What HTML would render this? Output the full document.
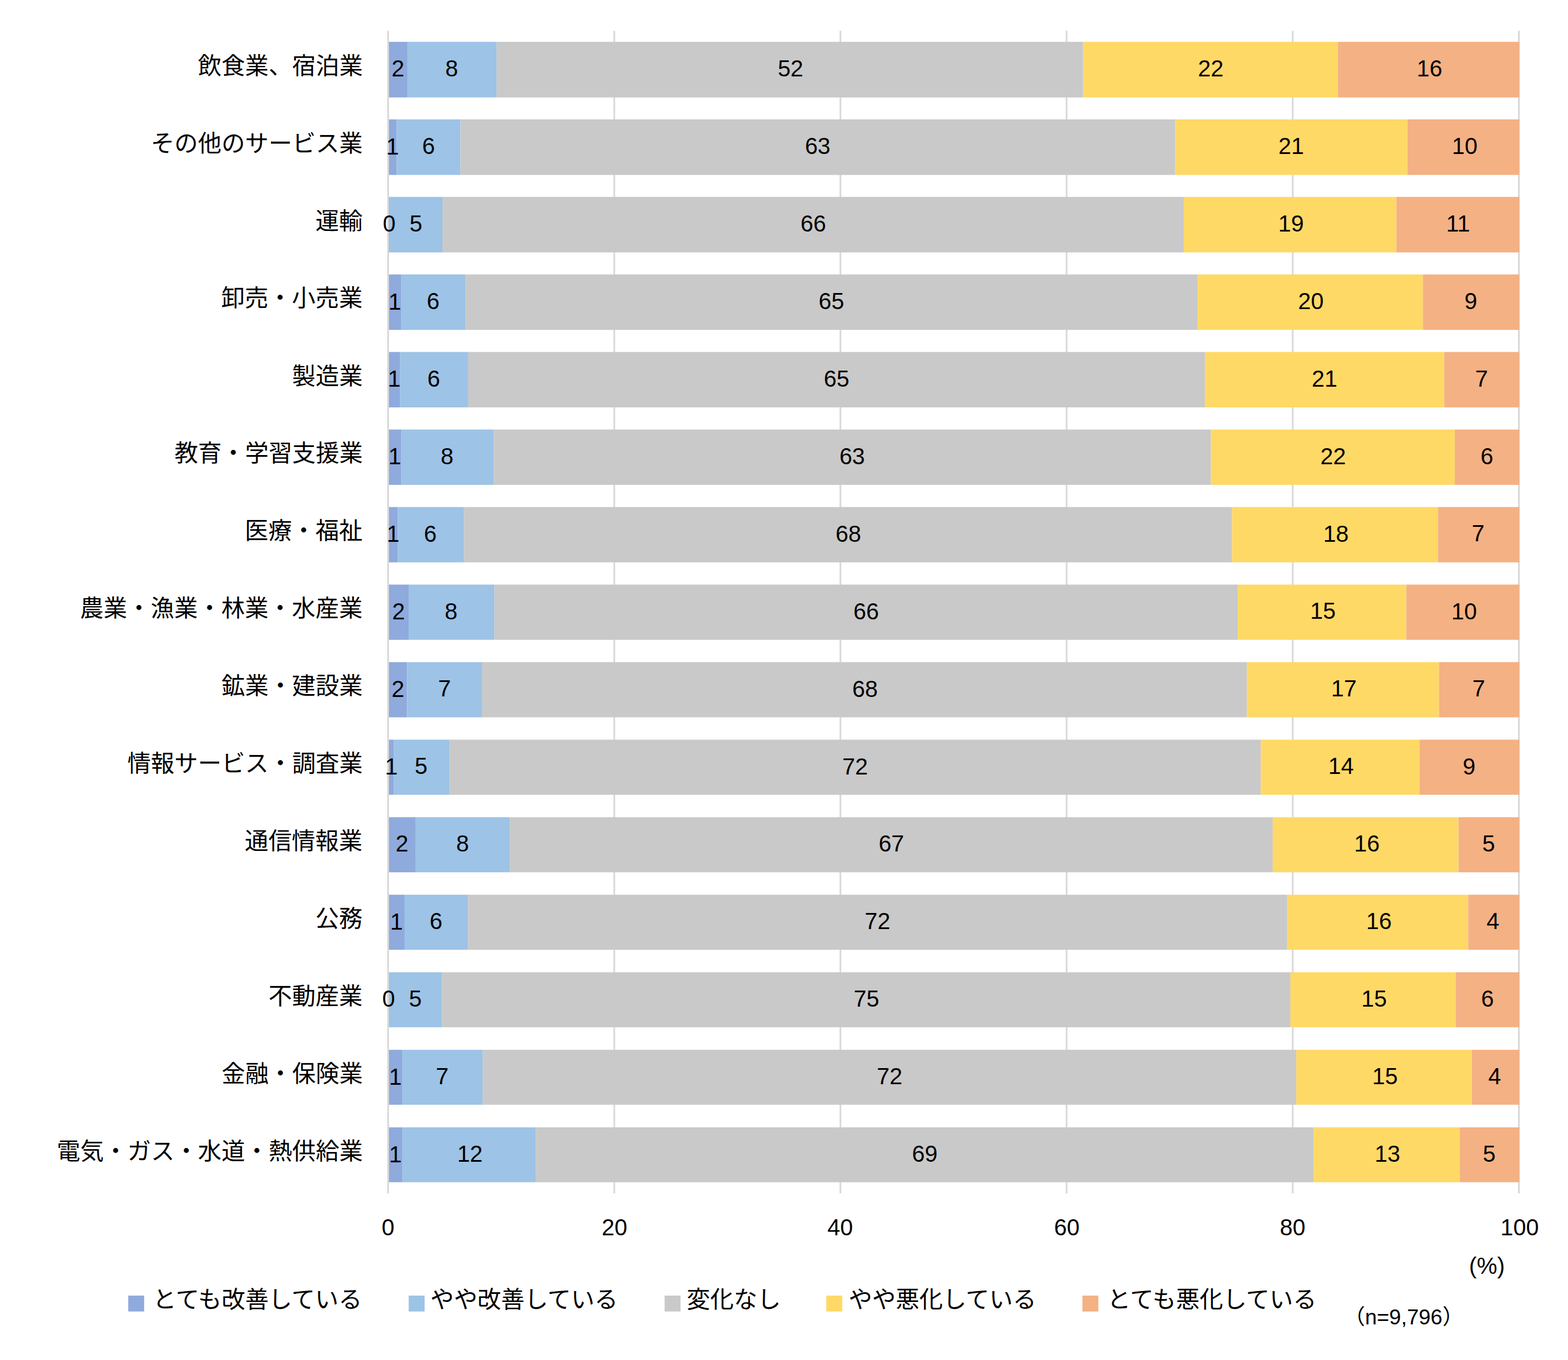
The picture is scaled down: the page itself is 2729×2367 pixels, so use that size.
<!DOCTYPE html>
<html lang="ja"><head><meta charset="utf-8"><title>業種別 景況感の変化</title><style>
html,body{margin:0;padding:0;background:#fff}
body{width:2729px;height:2367px;position:relative;font-family:"Liberation Sans","Noto Sans CJK JP",sans-serif}
#chart{position:absolute;left:0;top:0;width:2729px;height:2367px;background:#fff;overflow:hidden}
#plot{position:absolute;left:0;top:0;display:block}
.g{fill:#D9D9D9}
.s0{fill:#8FAADC}.s1{fill:#9DC3E6}.s2{fill:#C9C9C9}.s3{fill:#FFD966}.s4{fill:#F4B183}
.t{position:absolute;overflow:visible}
.t svg{position:absolute;left:0;top:0;display:block;overflow:visible}
.t text{font-family:"Liberation Sans","Noto Sans CJK JP",sans-serif;fill:#000}
.cat text{font-size:41px;text-anchor:end}
.val text{font-size:40px;text-anchor:middle}
.ax text{font-size:40px;text-anchor:middle}
.unit text{font-size:40px;text-anchor:middle}
.note text{font-size:37px;text-anchor:middle}
.leg text{font-size:41px;text-anchor:start}
</style></head>
<body>
<div id="chart">
<svg id="plot" width="2729" height="2367" viewBox="0 0 2729 2367"><rect class="g" x="1067.60" y="53.50" width="3" height="2023.50"/>
<rect class="g" x="1461.20" y="53.50" width="3" height="2023.50"/>
<rect class="g" x="1854.80" y="53.50" width="3" height="2023.50"/>
<rect class="g" x="2248.40" y="53.50" width="3" height="2023.50"/>
<rect class="g" x="2642.00" y="53.50" width="3" height="2023.50"/>
<g><rect class="s0" x="676.90" y="72.80" width="32.20" height="96.80"/><rect class="s1" x="709.10" y="72.80" width="155.00" height="96.80"/><rect class="s2" x="864.10" y="72.80" width="1021.30" height="96.80"/><rect class="s3" x="1885.40" y="72.80" width="443.00" height="96.80"/><rect class="s4" x="2328.40" y="72.80" width="316.00" height="96.80"/></g>
<g><rect class="s0" x="676.90" y="207.75" width="13.40" height="96.71"/><rect class="s1" x="690.30" y="207.75" width="111.00" height="96.71"/><rect class="s2" x="801.30" y="207.75" width="1243.90" height="96.71"/><rect class="s3" x="2045.20" y="207.75" width="404.30" height="96.71"/><rect class="s4" x="2449.50" y="207.75" width="194.90" height="96.71"/></g>
<g><rect class="s0" x="676.90" y="342.70" width="1.70" height="96.61"/><rect class="s1" x="678.60" y="342.70" width="91.40" height="96.61"/><rect class="s2" x="770.00" y="342.70" width="1290.00" height="96.61"/><rect class="s3" x="2060.00" y="342.70" width="370.30" height="96.61"/><rect class="s4" x="2430.30" y="342.70" width="214.10" height="96.61"/></g>
<g><rect class="s0" x="676.90" y="477.65" width="21.20" height="96.52"/><rect class="s1" x="698.10" y="477.65" width="112.10" height="96.52"/><rect class="s2" x="810.20" y="477.65" width="1274.00" height="96.52"/><rect class="s3" x="2084.20" y="477.65" width="392.20" height="96.52"/><rect class="s4" x="2476.40" y="477.65" width="168.00" height="96.52"/></g>
<g><rect class="s0" x="676.90" y="612.60" width="19.30" height="96.43"/><rect class="s1" x="696.20" y="612.60" width="118.70" height="96.43"/><rect class="s2" x="814.90" y="612.60" width="1282.20" height="96.43"/><rect class="s3" x="2097.10" y="612.60" width="416.40" height="96.43"/><rect class="s4" x="2513.50" y="612.60" width="130.90" height="96.43"/></g>
<g><rect class="s0" x="676.90" y="747.55" width="21.20" height="96.34"/><rect class="s1" x="698.10" y="747.55" width="161.00" height="96.34"/><rect class="s2" x="859.10" y="747.55" width="1248.20" height="96.34"/><rect class="s3" x="2107.30" y="747.55" width="424.60" height="96.34"/><rect class="s4" x="2531.90" y="747.55" width="112.50" height="96.34"/></g>
<g><rect class="s0" x="676.90" y="882.50" width="15.40" height="96.24"/><rect class="s1" x="692.30" y="882.50" width="114.80" height="96.24"/><rect class="s2" x="807.10" y="882.50" width="1337.30" height="96.24"/><rect class="s3" x="2144.40" y="882.50" width="358.20" height="96.24"/><rect class="s4" x="2502.60" y="882.50" width="141.80" height="96.24"/></g>
<g><rect class="s0" x="676.90" y="1017.45" width="34.10" height="96.15"/><rect class="s1" x="711.00" y="1017.45" width="149.20" height="96.15"/><rect class="s2" x="860.20" y="1017.45" width="1293.90" height="96.15"/><rect class="s3" x="2154.10" y="1017.45" width="293.40" height="96.15"/><rect class="s4" x="2447.50" y="1017.45" width="196.90" height="96.15"/></g>
<g><rect class="s0" x="676.90" y="1152.40" width="31.40" height="96.06"/><rect class="s1" x="708.30" y="1152.40" width="130.80" height="96.06"/><rect class="s2" x="839.10" y="1152.40" width="1331.10" height="96.06"/><rect class="s3" x="2170.20" y="1152.40" width="334.30" height="96.06"/><rect class="s4" x="2504.50" y="1152.40" width="139.90" height="96.06"/></g>
<g><rect class="s0" x="676.90" y="1287.35" width="8.30" height="95.96"/><rect class="s1" x="685.20" y="1287.35" width="96.90" height="95.96"/><rect class="s2" x="782.10" y="1287.35" width="1412.30" height="95.96"/><rect class="s3" x="2194.40" y="1287.35" width="276.10" height="95.96"/><rect class="s4" x="2470.50" y="1287.35" width="173.90" height="95.96"/></g>
<g><rect class="s0" x="676.90" y="1422.30" width="46.20" height="95.87"/><rect class="s1" x="723.10" y="1422.30" width="164.10" height="95.87"/><rect class="s2" x="887.20" y="1422.30" width="1327.90" height="95.87"/><rect class="s3" x="2215.10" y="1422.30" width="323.40" height="95.87"/><rect class="s4" x="2538.50" y="1422.30" width="105.90" height="95.87"/></g>
<g><rect class="s0" x="676.90" y="1557.25" width="27.10" height="95.78"/><rect class="s1" x="704.00" y="1557.25" width="110.10" height="95.78"/><rect class="s2" x="814.10" y="1557.25" width="1426.00" height="95.78"/><rect class="s3" x="2240.10" y="1557.25" width="315.20" height="95.78"/><rect class="s4" x="2555.30" y="1557.25" width="89.10" height="95.78"/></g>
<g><rect class="s1" x="676.90" y="1692.20" width="92.30" height="95.68"/><rect class="s2" x="769.20" y="1692.20" width="1476.70" height="95.68"/><rect class="s3" x="2245.90" y="1692.20" width="287.50" height="95.68"/><rect class="s4" x="2533.40" y="1692.20" width="111.00" height="95.68"/></g>
<g><rect class="s0" x="676.90" y="1827.15" width="23.20" height="95.59"/><rect class="s1" x="700.10" y="1827.15" width="139.80" height="95.59"/><rect class="s2" x="839.90" y="1827.15" width="1416.20" height="95.59"/><rect class="s3" x="2256.10" y="1827.15" width="305.50" height="95.59"/><rect class="s4" x="2561.60" y="1827.15" width="82.80" height="95.59"/></g>
<g><rect class="s0" x="676.90" y="1962.10" width="23.20" height="95.50"/><rect class="s1" x="700.10" y="1962.10" width="232.00" height="95.50"/><rect class="s2" x="932.10" y="1962.10" width="1354.10" height="95.50"/><rect class="s3" x="2286.20" y="1962.10" width="254.30" height="95.50"/><rect class="s4" x="2540.50" y="1962.10" width="103.90" height="95.50"/></g>
<rect class="g" x="674.00" y="53.50" width="3" height="2023.50"/>
<rect class="s0" x="223.20" y="2254.9" width="27.7" height="27.7"/>
<rect class="s1" x="711.30" y="2254.9" width="27.7" height="27.7"/>
<rect class="s2" x="1156.70" y="2254.9" width="27.7" height="27.7"/>
<rect class="s3" x="1438.10" y="2254.9" width="27.7" height="27.7"/>
<rect class="s4" x="1883.90" y="2254.9" width="27.7" height="27.7"/></svg>
<div class="row">
<div class="t cat" style="left:338.58px;top:91.89px;width:292.52px;height:42.83px"><svg width="292.52" height="42.83" viewBox="0 0 292.52 42.83"><text x="292.52" y="36.62">飲食業、宿泊業</text></svg></div>
<div class="t val" style="left:678.95px;top:100.43px;width:27.10px;height:36.64px"><svg width="27.10" height="36.64" viewBox="0 0 27.10 36.64"><text x="13.55" y="32.87">2</text></svg></div>
<div class="t val" style="left:772.05px;top:100.43px;width:28.10px;height:37.20px"><svg width="28.10" height="37.20" viewBox="0 0 28.10 37.20"><text x="14.05" y="32.87">8</text></svg></div>
<div class="t val" style="left:1349.65px;top:100.43px;width:51.75px;height:37.20px"><svg width="51.75" height="37.20" viewBox="0 0 51.75 37.20"><text x="25.88" y="32.87">52</text></svg></div>
<div class="t val" style="left:2081.15px;top:100.43px;width:52.40px;height:36.64px"><svg width="52.40" height="36.64" viewBox="0 0 52.40 36.64"><text x="26.20" y="32.87">22</text></svg></div>
<div class="t val" style="left:2463.30px;top:100.43px;width:50.00px;height:37.20px"><svg width="50.00" height="37.20" viewBox="0 0 50.00 37.20"><text x="25.00" y="32.87">16</text></svg></div>
</div>
<div class="row">
<div class="t cat" style="left:258.69px;top:226.80px;width:372.41px;height:42.79px"><svg width="372.41" height="42.79" viewBox="0 0 372.41 42.79"><text x="372.41" y="36.62">その他のサービス業</text></svg></div>
<div class="t val" style="left:672.20px;top:235.78px;width:22.40px;height:36.20px"><svg width="22.40" height="36.20" viewBox="0 0 22.40 36.20"><text x="11.20" y="32.60">1</text></svg></div>
<div class="t val" style="left:731.50px;top:235.33px;width:27.60px;height:37.20px"><svg width="27.60" height="37.20" viewBox="0 0 27.60 37.20"><text x="13.80" y="32.87">6</text></svg></div>
<div class="t val" style="left:1397.25px;top:235.33px;width:52.23px;height:37.20px"><svg width="52.23" height="37.20" viewBox="0 0 52.23 37.20"><text x="26.12" y="32.87">63</text></svg></div>
<div class="t val" style="left:2221.60px;top:235.33px;width:50.35px;height:36.64px"><svg width="50.35" height="36.64" viewBox="0 0 50.35 36.64"><text x="25.18" y="32.87">21</text></svg></div>
<div class="t val" style="left:2523.85px;top:235.33px;width:50.55px;height:37.22px"><svg width="50.55" height="37.22" viewBox="0 0 50.55 37.22"><text x="25.28" y="32.87">10</text></svg></div>
</div>
<div class="row">
<div class="t cat" style="left:544.04px;top:361.70px;width:87.06px;height:42.83px"><svg width="87.06" height="42.83" viewBox="0 0 87.06 42.83"><text x="87.06" y="36.62">運輸</text></svg></div>
<div class="t val" style="left:662.90px;top:370.24px;width:28.70px;height:37.22px"><svg width="28.70" height="37.22" viewBox="0 0 28.70 37.22"><text x="14.35" y="32.87">0</text></svg></div>
<div class="t val" style="left:710.90px;top:370.76px;width:25.80px;height:36.68px"><svg width="25.80" height="36.68" viewBox="0 0 25.80 36.68"><text x="12.90" y="32.35">5</text></svg></div>
<div class="t val" style="left:1389.00px;top:370.24px;width:52.90px;height:37.20px"><svg width="52.90" height="37.20" viewBox="0 0 52.90 37.20"><text x="26.45" y="32.87">66</text></svg></div>
<div class="t val" style="left:2222.05px;top:370.24px;width:50.15px;height:37.20px"><svg width="50.15" height="37.20" viewBox="0 0 50.15 37.20"><text x="25.08" y="32.87">19</text></svg></div>
<div class="t val" style="left:2514.25px;top:370.68px;width:47.70px;height:36.20px"><svg width="47.70" height="36.20" viewBox="0 0 47.70 36.20"><text x="23.85" y="32.42">11</text></svg></div>
</div>
<div class="row">
<div class="t cat" style="left:380.19px;top:496.48px;width:250.91px;height:42.91px"><svg width="250.91" height="42.91" viewBox="0 0 250.91 42.91"><text x="250.91" y="36.74">卸売・小売業</text></svg></div>
<div class="t val" style="left:676.10px;top:505.59px;width:22.40px;height:36.20px"><svg width="22.40" height="36.20" viewBox="0 0 22.40 36.20"><text x="11.20" y="32.60">1</text></svg></div>
<div class="t val" style="left:739.85px;top:505.14px;width:27.60px;height:37.20px"><svg width="27.60" height="37.20" viewBox="0 0 27.60 37.20"><text x="13.80" y="32.87">6</text></svg></div>
<div class="t val" style="left:1421.20px;top:505.14px;width:52.00px;height:37.20px"><svg width="52.00" height="37.20" viewBox="0 0 52.00 37.20"><text x="26.00" y="32.87">65</text></svg></div>
<div class="t val" style="left:2254.55px;top:505.14px;width:53.20px;height:37.22px"><svg width="53.20" height="37.22" viewBox="0 0 53.20 37.22"><text x="26.60" y="32.87">20</text></svg></div>
<div class="t val" style="left:2545.95px;top:505.14px;width:27.90px;height:37.20px"><svg width="27.90" height="37.20" viewBox="0 0 27.90 37.20"><text x="13.95" y="32.87">9</text></svg></div>
</div>
<div class="row">
<div class="t cat" style="left:503.87px;top:631.51px;width:127.23px;height:42.87px"><svg width="127.23" height="42.87" viewBox="0 0 127.23 42.87"><text x="127.23" y="36.62">製造業</text></svg></div>
<div class="t val" style="left:675.15px;top:640.49px;width:22.40px;height:36.20px"><svg width="22.40" height="36.20" viewBox="0 0 22.40 36.20"><text x="11.20" y="32.60">1</text></svg></div>
<div class="t val" style="left:741.25px;top:640.05px;width:27.60px;height:37.20px"><svg width="27.60" height="37.20" viewBox="0 0 27.60 37.20"><text x="13.80" y="32.87">6</text></svg></div>
<div class="t val" style="left:1430.00px;top:640.05px;width:52.00px;height:37.20px"><svg width="52.00" height="37.20" viewBox="0 0 52.00 37.20"><text x="26.00" y="32.87">65</text></svg></div>
<div class="t val" style="left:2279.55px;top:640.05px;width:50.35px;height:36.64px"><svg width="50.35" height="36.64" viewBox="0 0 50.35 36.64"><text x="25.18" y="32.87">21</text></svg></div>
<div class="t val" style="left:2564.80px;top:640.56px;width:27.30px;height:36.13px"><svg width="27.30" height="36.13" viewBox="0 0 27.30 36.13"><text x="13.65" y="32.35">7</text></svg></div>
</div>
<div class="row">
<div class="t cat" style="left:297.61px;top:766.25px;width:333.49px;height:43.03px"><svg width="333.49" height="43.03" viewBox="0 0 333.49 43.03"><text x="333.49" y="36.78">教育・学習支援業</text></svg></div>
<div class="t val" style="left:676.10px;top:775.39px;width:22.40px;height:36.20px"><svg width="22.40" height="36.20" viewBox="0 0 22.40 36.20"><text x="11.20" y="32.60">1</text></svg></div>
<div class="t val" style="left:764.05px;top:774.95px;width:28.10px;height:37.20px"><svg width="28.10" height="37.20" viewBox="0 0 28.10 37.20"><text x="14.05" y="32.87">8</text></svg></div>
<div class="t val" style="left:1457.20px;top:774.95px;width:52.23px;height:37.20px"><svg width="52.23" height="37.20" viewBox="0 0 52.23 37.20"><text x="26.12" y="32.87">63</text></svg></div>
<div class="t val" style="left:2293.85px;top:774.95px;width:52.40px;height:36.64px"><svg width="52.40" height="36.64" viewBox="0 0 52.40 36.64"><text x="26.20" y="32.87">22</text></svg></div>
<div class="t val" style="left:2573.85px;top:774.95px;width:27.60px;height:37.20px"><svg width="27.60" height="37.20" viewBox="0 0 27.60 37.20"><text x="13.80" y="32.87">6</text></svg></div>
</div>
<div class="row">
<div class="t cat" style="left:424.04px;top:901.35px;width:207.06px;height:42.75px"><svg width="207.06" height="42.75" viewBox="0 0 207.06 42.75"><text x="207.06" y="36.58">医療・福祉</text></svg></div>
<div class="t val" style="left:673.20px;top:910.30px;width:22.40px;height:36.20px"><svg width="22.40" height="36.20" viewBox="0 0 22.40 36.20"><text x="11.20" y="32.60">1</text></svg></div>
<div class="t val" style="left:735.40px;top:909.85px;width:27.60px;height:37.20px"><svg width="27.60" height="37.20" viewBox="0 0 27.60 37.20"><text x="13.80" y="32.87">6</text></svg></div>
<div class="t val" style="left:1449.75px;top:909.85px;width:53.15px;height:37.20px"><svg width="53.15" height="37.20" viewBox="0 0 53.15 37.20"><text x="26.58" y="32.87">68</text></svg></div>
<div class="t val" style="left:2300.40px;top:909.85px;width:50.25px;height:37.20px"><svg width="50.25" height="37.20" viewBox="0 0 50.25 37.20"><text x="25.13" y="32.87">18</text></svg></div>
<div class="t val" style="left:2559.35px;top:910.37px;width:27.30px;height:36.13px"><svg width="27.30" height="36.13" viewBox="0 0 27.30 36.13"><text x="13.65" y="32.35">7</text></svg></div>
</div>
<div class="row">
<div class="t cat" style="left:134.05px;top:1036.22px;width:497.05px;height:42.87px"><svg width="497.05" height="42.87" viewBox="0 0 497.05 42.87"><text x="497.05" y="36.62">農業・漁業・林業・水産業</text></svg></div>
<div class="t val" style="left:679.90px;top:1044.76px;width:27.10px;height:36.64px"><svg width="27.10" height="36.64" viewBox="0 0 27.10 36.64"><text x="13.55" y="32.87">2</text></svg></div>
<div class="t val" style="left:771.05px;top:1044.76px;width:28.10px;height:37.20px"><svg width="28.10" height="37.20" viewBox="0 0 28.10 37.20"><text x="14.05" y="32.87">8</text></svg></div>
<div class="t val" style="left:1481.15px;top:1044.76px;width:52.90px;height:37.20px"><svg width="52.90" height="37.20" viewBox="0 0 52.90 37.20"><text x="26.45" y="32.87">66</text></svg></div>
<div class="t val" style="left:2277.70px;top:1045.20px;width:49.10px;height:36.76px"><svg width="49.10" height="36.76" viewBox="0 0 49.10 36.76"><text x="24.55" y="32.42">15</text></svg></div>
<div class="t val" style="left:2522.85px;top:1044.76px;width:50.55px;height:37.22px"><svg width="50.55" height="37.22" viewBox="0 0 50.55 37.22"><text x="25.28" y="32.87">10</text></svg></div>
</div>
<div class="row">
<div class="t cat" style="left:379.76px;top:1171.12px;width:251.34px;height:42.83px"><svg width="251.34" height="42.83" viewBox="0 0 251.34 42.83"><text x="251.34" y="36.62">鉱業・建設業</text></svg></div>
<div class="t val" style="left:678.55px;top:1179.66px;width:27.10px;height:36.64px"><svg width="27.10" height="36.64" viewBox="0 0 27.10 36.64"><text x="13.55" y="32.87">2</text></svg></div>
<div class="t val" style="left:759.55px;top:1180.18px;width:27.30px;height:36.13px"><svg width="27.30" height="36.13" viewBox="0 0 27.30 36.13"><text x="13.65" y="32.35">7</text></svg></div>
<div class="t val" style="left:1478.65px;top:1179.66px;width:53.15px;height:37.20px"><svg width="53.15" height="37.20" viewBox="0 0 53.15 37.20"><text x="26.58" y="32.87">68</text></svg></div>
<div class="t val" style="left:2314.25px;top:1180.10px;width:49.85px;height:36.20px"><svg width="49.85" height="36.20" viewBox="0 0 49.85 36.20"><text x="24.93" y="32.42">17</text></svg></div>
<div class="t val" style="left:2560.30px;top:1180.18px;width:27.30px;height:36.13px"><svg width="27.30" height="36.13" viewBox="0 0 27.30 36.13"><text x="13.65" y="32.35">7</text></svg></div>
</div>
<div class="row">
<div class="t cat" style="left:215.70px;top:1306.03px;width:415.40px;height:43.03px"><svg width="415.40" height="43.03" viewBox="0 0 415.40 43.03"><text x="415.40" y="36.62">情報サービス・調査業</text></svg></div>
<div class="t val" style="left:669.65px;top:1315.01px;width:22.40px;height:36.20px"><svg width="22.40" height="36.20" viewBox="0 0 22.40 36.20"><text x="11.20" y="32.60">1</text></svg></div>
<div class="t val" style="left:720.25px;top:1315.08px;width:25.80px;height:36.68px"><svg width="25.80" height="36.68" viewBox="0 0 25.80 36.68"><text x="12.90" y="32.35">5</text></svg></div>
<div class="t val" style="left:1462.40px;top:1314.56px;width:52.50px;height:36.64px"><svg width="52.50" height="36.64" viewBox="0 0 52.50 36.64"><text x="26.25" y="32.87">72</text></svg></div>
<div class="t val" style="left:2309.35px;top:1315.01px;width:50.05px;height:36.20px"><svg width="50.05" height="36.20" viewBox="0 0 50.05 36.20"><text x="25.03" y="32.42">14</text></svg></div>
<div class="t val" style="left:2543.00px;top:1314.56px;width:27.90px;height:37.20px"><svg width="27.90" height="37.20" viewBox="0 0 27.90 37.20"><text x="13.95" y="32.87">9</text></svg></div>
</div>
<div class="row">
<div class="t cat" style="left:421.25px;top:1440.93px;width:209.85px;height:42.83px"><svg width="209.85" height="42.83" viewBox="0 0 209.85 42.83"><text x="209.85" y="36.62">通信情報業</text></svg></div>
<div class="t val" style="left:685.95px;top:1449.47px;width:27.10px;height:36.64px"><svg width="27.10" height="36.64" viewBox="0 0 27.10 36.64"><text x="13.55" y="32.87">2</text></svg></div>
<div class="t val" style="left:790.60px;top:1449.47px;width:28.10px;height:37.20px"><svg width="28.10" height="37.20" viewBox="0 0 28.10 37.20"><text x="14.05" y="32.87">8</text></svg></div>
<div class="t val" style="left:1525.15px;top:1449.47px;width:52.75px;height:37.20px"><svg width="52.75" height="37.20" viewBox="0 0 52.75 37.20"><text x="26.38" y="32.87">67</text></svg></div>
<div class="t val" style="left:2353.70px;top:1449.47px;width:50.00px;height:37.20px"><svg width="50.00" height="37.20" viewBox="0 0 50.00 37.20"><text x="25.00" y="32.87">16</text></svg></div>
<div class="t val" style="left:2578.05px;top:1449.98px;width:25.80px;height:36.68px"><svg width="25.80" height="36.68" viewBox="0 0 25.80 36.68"><text x="12.90" y="32.35">5</text></svg></div>
</div>
<div class="row">
<div class="t cat" style="left:545.14px;top:1575.83px;width:85.96px;height:42.95px"><svg width="85.96" height="42.95" viewBox="0 0 85.96 42.95"><text x="85.96" y="36.62">公務</text></svg></div>
<div class="t val" style="left:679.05px;top:1584.81px;width:22.40px;height:36.20px"><svg width="22.40" height="36.20" viewBox="0 0 22.40 36.20"><text x="11.20" y="32.60">1</text></svg></div>
<div class="t val" style="left:744.75px;top:1584.37px;width:27.60px;height:37.20px"><svg width="27.60" height="37.20" viewBox="0 0 27.60 37.20"><text x="13.80" y="32.87">6</text></svg></div>
<div class="t val" style="left:1501.25px;top:1584.37px;width:52.50px;height:36.64px"><svg width="52.50" height="36.64" viewBox="0 0 52.50 36.64"><text x="26.25" y="32.87">72</text></svg></div>
<div class="t val" style="left:2374.60px;top:1584.37px;width:50.00px;height:37.20px"><svg width="50.00" height="37.20" viewBox="0 0 50.00 37.20"><text x="25.00" y="32.87">16</text></svg></div>
<div class="t val" style="left:2584.30px;top:1584.89px;width:28.90px;height:36.13px"><svg width="28.90" height="36.13" viewBox="0 0 28.90 36.13"><text x="14.45" y="32.35">4</text></svg></div>
</div>
<div class="row">
<div class="t cat" style="left:463.02px;top:1710.74px;width:168.08px;height:42.95px"><svg width="168.08" height="42.95" viewBox="0 0 168.08 42.95"><text x="168.08" y="36.62">不動産業</text></svg></div>
<div class="t val" style="left:662.05px;top:1719.27px;width:28.70px;height:37.22px"><svg width="28.70" height="37.22" viewBox="0 0 28.70 37.22"><text x="14.35" y="32.87">0</text></svg></div>
<div class="t val" style="left:709.65px;top:1719.79px;width:25.80px;height:36.68px"><svg width="25.80" height="36.68" viewBox="0 0 25.80 36.68"><text x="12.90" y="32.35">5</text></svg></div>
<div class="t val" style="left:1481.70px;top:1719.79px;width:51.85px;height:36.68px"><svg width="51.85" height="36.68" viewBox="0 0 51.85 36.68"><text x="25.93" y="32.35">75</text></svg></div>
<div class="t val" style="left:2366.55px;top:1719.72px;width:49.10px;height:36.76px"><svg width="49.10" height="36.76" viewBox="0 0 49.10 36.76"><text x="24.55" y="32.42">15</text></svg></div>
<div class="t val" style="left:2574.60px;top:1719.27px;width:27.60px;height:37.20px"><svg width="27.60" height="37.20" viewBox="0 0 27.60 37.20"><text x="13.80" y="32.87">6</text></svg></div>
</div>
<div class="row">
<div class="t cat" style="left:380.57px;top:1845.64px;width:250.53px;height:42.95px"><svg width="250.53" height="42.95" viewBox="0 0 250.53 42.95"><text x="250.53" y="36.62">金融・保険業</text></svg></div>
<div class="t val" style="left:677.10px;top:1854.62px;width:22.40px;height:36.20px"><svg width="22.40" height="36.20" viewBox="0 0 22.40 36.20"><text x="11.20" y="32.60">1</text></svg></div>
<div class="t val" style="left:755.85px;top:1854.69px;width:27.30px;height:36.13px"><svg width="27.30" height="36.13" viewBox="0 0 27.30 36.13"><text x="13.65" y="32.35">7</text></svg></div>
<div class="t val" style="left:1522.15px;top:1854.18px;width:52.50px;height:36.64px"><svg width="52.50" height="36.64" viewBox="0 0 52.50 36.64"><text x="26.25" y="32.87">72</text></svg></div>
<div class="t val" style="left:2385.75px;top:1854.62px;width:49.10px;height:36.76px"><svg width="49.10" height="36.76" viewBox="0 0 49.10 36.76"><text x="24.55" y="32.42">15</text></svg></div>
<div class="t val" style="left:2587.45px;top:1854.69px;width:28.90px;height:36.13px"><svg width="28.90" height="36.13" viewBox="0 0 28.90 36.13"><text x="14.45" y="32.35">4</text></svg></div>
</div>
<div class="row">
<div class="t cat" style="left:94.52px;top:1980.50px;width:536.58px;height:43.07px"><svg width="536.58" height="43.07" viewBox="0 0 536.58 43.07"><text x="536.58" y="36.66">電気・ガス・水道・熱供給業</text></svg></div>
<div class="t val" style="left:677.10px;top:1989.52px;width:22.40px;height:36.20px"><svg width="22.40" height="36.20" viewBox="0 0 22.40 36.20"><text x="11.20" y="32.60">1</text></svg></div>
<div class="t val" style="left:793.00px;top:1989.08px;width:49.75px;height:36.64px"><svg width="49.75" height="36.64" viewBox="0 0 49.75 36.64"><text x="24.88" y="32.87">12</text></svg></div>
<div class="t val" style="left:1583.15px;top:1989.08px;width:53.05px;height:37.20px"><svg width="53.05" height="37.20" viewBox="0 0 53.05 37.20"><text x="26.53" y="32.87">69</text></svg></div>
<div class="t val" style="left:2390.25px;top:1989.08px;width:49.33px;height:37.20px"><svg width="49.33" height="37.20" viewBox="0 0 49.33 37.20"><text x="24.67" y="32.87">13</text></svg></div>
<div class="t val" style="left:2579.05px;top:1989.60px;width:25.80px;height:36.68px"><svg width="25.80" height="36.68" viewBox="0 0 25.80 36.68"><text x="12.90" y="32.35">5</text></svg></div>
</div>
<div class="xaxis">
<div class="t ax" style="left:661.15px;top:2117.13px;width:28.70px;height:37.22px"><svg width="28.70" height="37.22" viewBox="0 0 28.70 37.22"><text x="14.35" y="32.87">0</text></svg></div>
<div class="t ax" style="left:1042.90px;top:2117.13px;width:53.20px;height:37.22px"><svg width="53.20" height="37.22" viewBox="0 0 53.20 37.22"><text x="26.60" y="32.87">20</text></svg></div>
<div class="t ax" style="left:1435.00px;top:2117.13px;width:54.70px;height:37.22px"><svg width="54.70" height="37.22" viewBox="0 0 54.70 37.22"><text x="27.35" y="32.87">40</text></svg></div>
<div class="t ax" style="left:1829.85px;top:2117.13px;width:53.45px;height:37.22px"><svg width="53.45" height="37.22" viewBox="0 0 53.45 37.22"><text x="26.73" y="32.87">60</text></svg></div>
<div class="t ax" style="left:2223.20px;top:2117.13px;width:53.70px;height:37.22px"><svg width="53.70" height="37.22" viewBox="0 0 53.70 37.22"><text x="26.85" y="32.87">80</text></svg></div>
<div class="t ax" style="left:2607.30px;top:2117.13px;width:75.85px;height:37.22px"><svg width="75.85" height="37.22" viewBox="0 0 75.85 37.22"><text x="37.93" y="32.87">100</text></svg></div>
<div class="t unit" style="left:2549.10px;top:2183.00px;width:77.90px;height:46.10px"><svg width="77.90" height="46.10" viewBox="0 0 77.90 46.10"><text x="38.95" y="33.77">(%)</text></svg></div>
</div>
<div class="note">
<div class="t note" style="left:2339.50px;top:2268.20px;width:206.10px;height:48.60px"><svg width="206.10" height="48.60" viewBox="0 0 206.10 48.60"><text x="103.05" y="37.33">（n=9,796）</text></svg></div>
</div>
<div class="legend">
<div class="t leg" style="left:265.50px;top:2239.25px;width:364.40px;height:42.95px"><svg width="364.40" height="42.95" viewBox="0 0 364.40 42.95"><text x="0" y="36.66">とても改善している</text></svg></div>
<div class="t leg" style="left:748.90px;top:2239.25px;width:329.72px;height:42.95px"><svg width="329.72" height="42.95" viewBox="0 0 329.72 42.95"><text x="0" y="36.66">やや改善している</text></svg></div>
<div class="t leg" style="left:1194.90px;top:2239.33px;width:166.44px;height:42.83px"><svg width="166.44" height="42.83" viewBox="0 0 166.44 42.83"><text x="0" y="36.58">変化なし</text></svg></div>
<div class="t leg" style="left:1476.70px;top:2239.94px;width:329.72px;height:42.07px"><svg width="329.72" height="42.07" viewBox="0 0 329.72 42.07"><text x="0" y="35.98">やや悪化している</text></svg></div>
<div class="t leg" style="left:1927.00px;top:2239.94px;width:364.40px;height:42.07px"><svg width="364.40" height="42.07" viewBox="0 0 364.40 42.07"><text x="0" y="35.98">とても悪化している</text></svg></div>
</div>
</div>
</body></html>
